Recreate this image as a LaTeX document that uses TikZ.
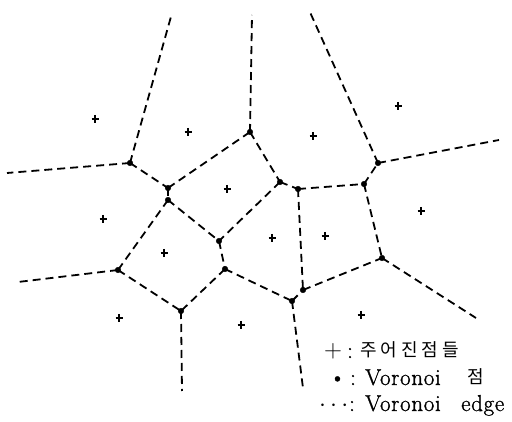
\documentclass[tikz,border=0pt]{standalone}
\usepackage{fontspec}
\newfontfamily\kofont{Noto Sans CJK KR}
\newfontfamily\lmfont[LetterSpace=3,FakeBold=1.2]{Latin Modern Roman}
\usepackage{tikz}
\usetikzlibrary{positioning}
\tikzset{
  vedge/.style={line width=1.8pt,dash pattern=on 8pt off 5pt},
  vsite/.style={line width=2pt},
  lgd/.style={inner sep=0pt,anchor=base west,font={\lmfont\fontsize{23}{26}\selectfont}},
  kor/.style={lgd,font={\kofont\fontsize{18}{21}\selectfont}}
}

\begin{document}
\begin{tikzpicture}[x=1pt,y=-1pt]
        \useasboundingbox (0,0) rectangle (512,422);
        % Voronoi vertices
        \foreach \n/\x/\y in {v1/130/163, v2/168/188, v3/168/200, v4/250/132,
            v5/280/182, v6/298/189, v7/364/184, v8/378/163, v9/118/270,
            v10/219/241, v11/225/269, v12/181/311, v13/292/301, v14/303/290,
            v15/382/258}
          \coordinate (\n) at (\x,\y);
        % free ends of the unbounded edges
        \coordinate (r1) at (7,173);
        \coordinate (r2) at (172,13);
        \coordinate (r3) at (252,15);
        \coordinate (r4) at (309,10);
        \coordinate (r5) at (499,140);
        \coordinate (r6) at (18,282);
        \coordinate (r7) at (182,391);
        \coordinate (r8) at (303,388);
        \coordinate (r9) at (476,318);
        \foreach \a/\b in {v1/v2, v2/v3, v2/v4, v3/v9, v3/v10, v4/v5, v5/v6,
            v5/v10, v6/v7, v7/v8, v6/v14, v7/v15, v10/v11, v11/v12, v9/v12,
            v11/v13, v13/v14, v14/v15, v1/r1, v1/r2, v4/r3, v8/r4, v8/r5,
            v9/r6, v12/r7, v13/r8, v15/r9}
          \draw[vedge] (\a) -- (\b);
        \foreach \n in {v1,v2,v3,v4,v5,v6,v7,v8,v9,v10,v11,v12,v13,v14,v15}
          \filldraw (\n) circle (2.8pt);
        % given points
        \foreach \x/\y in {95/119, 188/132, 227/189, 313/136, 398/106, 421/211,
            103/219, 164/253, 272/238, 325/236, 119/318, 241/325, 361/315}
          \draw[vsite] (\x-3.5,\y) -- (\x+3.5,\y) (\x,\y-4) -- (\x,\y+4);
        % legend
        \node[lgd] (sym1) at (324,358) {$+$};
        \node[lgd] (col1) at (347,358) {:};
        \node[kor] (txt1) at (360,357) {주\hspace{4pt}어\hspace{4pt}진\hspace{4pt}점\hspace{4pt}들};
        \node[lgd] (sym2) at (329,385) {\textbullet};
        \node[lgd] (col2) at (350,385) {:};
        \node[lgd] (txt2) at (365,385) {Voronoi};
        \node[kor] (pt2) at (467,384) {점};
        \node[lgd] (sym3) at (319,411) {$\cdots$};
        \node[lgd] (col3) at (349,411) {:};
        \node[lgd] (txt3) at (365,411) {Voronoi};
        \node[lgd] (edg3) at (461,411) {edge};
      \end{tikzpicture}
\end{document}
